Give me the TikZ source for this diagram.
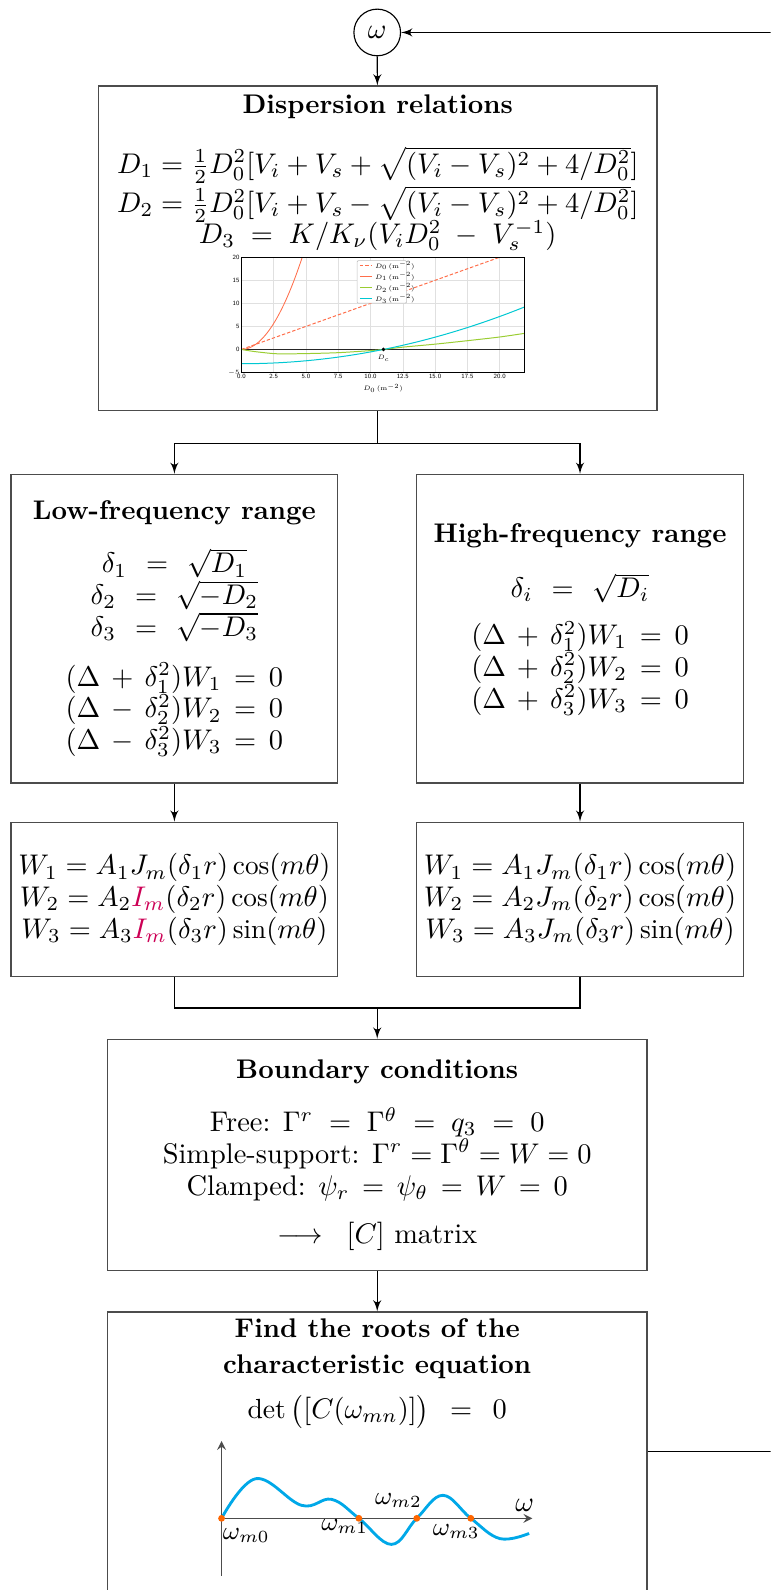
\documentclass[tikz,border=0pt]{standalone}
\usepackage{amsmath,amssymb}
\usepackage{fontspec}
\usepackage{xcolor}
\usepackage{tikz}
\usetikzlibrary{arrows,positioning,calc}

\definecolor{imred}{RGB}{204,0,85}
\definecolor{rootblue}{RGB}{0,168,232}
\definecolor{rootorange}{RGB}{255,102,0}
\definecolor{dzero}{RGB}{255,110,75}
\definecolor{dtwo}{RGB}{154,205,50}
\definecolor{dthree}{RGB}{0,200,210}

\newdimen\pxu \pxu=0.357pt
\newcommand{\weq}{\mskip7mu=\mskip7mu}

\begin{document}
\begin{tikzpicture}[x=0.357pt,y=-0.357pt,
    box/.style={rectangle,draw=black!70,line width=0.5pt,inner sep=0pt},
    boxtitle/.style={font=\fontsize{9.5}{12.5}\selectfont\bfseries,align=center,inner sep=0pt},
    eqn/.style={font=\fontsize{10}{11.2}\selectfont,align=center,inner sep=0pt},
    small/.style={font=\fontsize{9.75}{11.2}\selectfont},
    line/.style={draw,-latex',thin},
    ticklabel/.style={font=\tiny\sffamily,scale=0.45,inner sep=0.3pt},
    gridline/.style={black!12,line width=0.2pt}]
    \useasboundingbox (0,0) rectangle (760,1568);
    \clip (0,0) rectangle (760,1568);

    \node[circle,draw,thin,minimum size=46\pxu,inner sep=0pt](omega) at (372,32){$\omega$};

    % dispersion relations
    \node[box,minimum width=551\pxu,minimum height=320\pxu](disp) at (372.5,245){};
    \node[boxtitle](disptitle) at (372.5,105){Dispersion relations};
    \node[eqn,small](dispeq) at (372.5,196){%
        $D_1 = \tfrac{1}{2}D_0^2[V_i+V_s+\sqrt{(V_i-V_s)^2+4/D_0^2}]$\\
        $D_2 = \tfrac{1}{2}D_0^2[V_i+V_s-\sqrt{(V_i-V_s)^2+4/D_0^2}]$\\[-1.6pt]
        $D_3\;=\;K/K_\nu(V_iD_0^2\;-\;V_s^{-1})$};
    \begin{scope}[shift={(238,344.6)},x=4.548pt,y=1.623pt]
        \foreach \gx in {0,2.5,...,20}
            \draw[gridline] (\gx,-5) -- (\gx,20);
        \foreach \gy in {-5,0,...,20}
            \draw[gridline] (0,\gy) -- (21.94,\gy);
        \draw[black!85,line width=0.4pt] (0,0) -- (21.94,0);
        \begin{scope}
            \clip (0,-5) rectangle (21.94,20);
            \draw[dzero,line width=0.35pt,dash pattern=on 1.2pt off 0.7pt] (0,0) -- (20,20);
            \draw[dzero,line width=0.3pt,domain=0:4.75,samples=30] plot (\x,{0.9*\x*\x});
            \draw[dtwo,line width=0.35pt] plot[smooth] coordinates
                {(0,0) (1,-0.45) (2.5,-0.9) (3.5,-0.95) (5,-0.9) (7.5,-0.7) (10,-0.25) (11,0)
                 (12.5,0.5) (15,1.15) (17.5,1.9) (20,2.7) (21.94,3.5)};
            \draw[dthree,line width=0.35pt,domain=0:21.94,samples=40] plot (\x,{0.02562*(\x*\x-121)});
        \end{scope}
        \draw[black,line width=0.3pt] (0,-5) rectangle (21.94,20);
        \fill (11,0) circle (0.7pt);
        \node[ticklabel](dc) at (11,-1.9){$D_c$};
        \foreach \gl [count=\i] in {0.0,2.5,5.0,7.5,10.0,12.5,15.0,17.5,20.0}
            \node[ticklabel,anchor=north](xtick\i) at ({2.5*(\i-1)},-5.3){\gl};
        \foreach \gl [count=\i] in {$-5$,0,5,10,15,20}
            \node[ticklabel,anchor=east](ytick\i) at (-0.1,{5*(\i-2)}){\gl};
        \node[ticklabel](xlabel) at (10.97,-8.4){$D_0\,(\mathrm{m}^{-2})$};
        % legend
        \node[draw=black!25,fill=white,line width=0.2pt,rounded corners=0.4pt,
              minimum width=17.4pt,minimum height=15pt,inner sep=0pt](legend) at (10.875,14.65){};
        \draw[dzero,line width=0.35pt,dash pattern=on 1.2pt off 0.7pt] (9.17,18.19) -- (10.08,18.19);
        \draw[dzero,line width=0.3pt] (9.17,15.81) -- (10.08,15.81);
        \draw[dtwo,line width=0.35pt] (9.17,13.41) -- (10.08,13.41);
        \draw[dthree,line width=0.35pt] (9.17,10.97) -- (10.08,10.97);
        \node[ticklabel,anchor=west](leg0) at (10.3,18.19){$D_0\,(\mathrm{m}^{-2})$};
        \node[ticklabel,anchor=west](leg1) at (10.3,15.81){$D_1\,(\mathrm{m}^{-2})$};
        \node[ticklabel,anchor=west](leg2) at (10.3,13.41){$D_2\,(\mathrm{m}^{-2})$};
        \node[ticklabel,anchor=west](leg3) at (10.3,10.97){$D_3\,(\mathrm{m}^{-2})$};
    \end{scope}

    % frequency ranges
    \node[box,minimum width=322\pxu,minimum height=304\pxu](low) at (172,620){};
    \node[boxtitle](lowtitle) at (172,506){Low-frequency range};
    \node[eqn,small](lowdelta) at (172,587){%
        $\delta_1\weq\sqrt{D_1}$\\ $\delta_2\weq\sqrt{-D_2}$\\ $\delta_3\weq\sqrt{-D_3}$};
    \node[eqn,small](loweq) at (172,700){%
        $(\Delta\,+\,\delta_1^2)W_1\,=\,0$\\
        $(\Delta\,-\,\delta_2^2)W_2\,=\,0$\\
        $(\Delta\,-\,\delta_3^2)W_3\,=\,0$};

    \node[box,minimum width=322\pxu,minimum height=304\pxu](high) at (572,620){};
    \node[boxtitle](hightitle) at (572,528){High-frequency range};
    \node[eqn,small](highdelta) at (572,580){$\delta_i\weq\sqrt{D_i}$};
    \node[eqn,small](higheq) at (572,659){%
        $(\Delta\,+\,\delta_1^2)W_1\,=\,0$\\
        $(\Delta\,+\,\delta_2^2)W_2\,=\,0$\\
        $(\Delta\,+\,\delta_3^2)W_3\,=\,0$};

    % solutions
    \node[box,minimum width=322\pxu,minimum height=152\pxu](wlow) at (172,887){};
    \node[eqn,font=\fontsize{9.6}{11.2}\selectfont](wloweq) at (172,887){%
        $W_1 = A_1J_m(\delta_1 r)\cos(m\theta)$\\
        $W_2 = A_2\textcolor{imred}{I_m}(\delta_2 r)\cos(m\theta)$\\
        $W_3 = A_3\textcolor{imred}{I_m}(\delta_3 r)\sin(m\theta)$};
    \node[box,minimum width=322\pxu,minimum height=152\pxu](whigh) at (572,887){};
    \node[eqn,font=\fontsize{9.6}{11.2}\selectfont](whigheq) at (572,887){%
        $W_1 = A_1J_m(\delta_1 r)\cos(m\theta)$\\
        $W_2 = A_2J_m(\delta_2 r)\cos(m\theta)$\\
        $W_3 = A_3J_m(\delta_3 r)\sin(m\theta)$};

    % boundary conditions
    \node[box,minimum width=532\pxu,minimum height=228\pxu](bc) at (372,1139){};
    \node[boxtitle](bctitle) at (372,1057){Boundary conditions};
    \node[eqn](bceq) at (372,1138){%
        Free: $\Gamma^r\;=\;\Gamma^\theta\;=\;q_3\;=\;0$\\
        Simple-support: $\Gamma^r=\Gamma^\theta=W=0$\\
        Clamped: $\psi_r\,=\,\psi_\theta\,=\,W\,=\,0$};
    \node[eqn](bcmat) at (372,1219){$\longrightarrow\;\;[C]$ matrix};

    % roots
    \node[box,minimum width=532\pxu,minimum height=330\pxu](roots) at (372,1459){};
    \node[boxtitle](rootstitle) at (372,1330){Find the roots of the\\characteristic equation};
    \node[eqn,small](rootseq) at (372,1392){$\det\big([C(\omega_{mn})]\big)\mskip8mu=\mskip8mu0$};
    \draw[black!70,thin,-stealth] (218.5,1554) -- (218.5,1421);
    \draw[black!70,thin,-stealth] (218.5,1497.3) -- (525,1497.3);
    \draw[rootblue,line width=1pt] plot[smooth,tension=0.65] coordinates
        {(218.5,1497.3) (252.4,1458.2) (297.4,1484.5) (327,1478.6) (353.9,1497.3)
         (386,1523) (411,1497.3) (436.7,1474.6) (464.3,1497.3) (492.9,1517.3) (521.8,1512.2)};
    \foreach \rx in {218.5,353.9,411,464.3}
        \fill[rootorange] (\rx,1497.3) circle (1.2pt);
    \node[eqn](wlabel) at (517.5,1485){$\omega$};
    \node[eqn,font=\fontsize{8.6}{10}\selectfont](wzero) at (243,1514){$\omega_{m0}$};
    \node[eqn,font=\fontsize{8.6}{10}\selectfont](wone) at (340,1505){$\omega_{m1}$};
    \node[eqn,font=\fontsize{8.6}{10}\selectfont](wtwo) at (393,1480){$\omega_{m2}$};
    \node[eqn,font=\fontsize{8.6}{10}\selectfont](wthree) at (450,1510){$\omega_{m3}$};

    % connectors
    \coordinate (split) at (372.5,437);
    \coordinate (merge) at (372,994);
    \coordinate (fb) at (790,1431);
    \draw[line](omega)--(disp);
    \draw[thin](disp.south)--(split);
    \draw[line](split)-|(low);
    \draw[line](split)-|(high);
    \draw[line](low)--(wlow);
    \draw[line](high)--(whigh);
    \draw[thin](wlow.south)|-(merge);
    \draw[thin](whigh.south)|-(merge);
    \draw[line](merge)--(bc);
    \draw[line](bc)--(roots);
    \draw[line](fb -| roots.east)--(fb)|-(omega);
\end{tikzpicture}
\end{document}
